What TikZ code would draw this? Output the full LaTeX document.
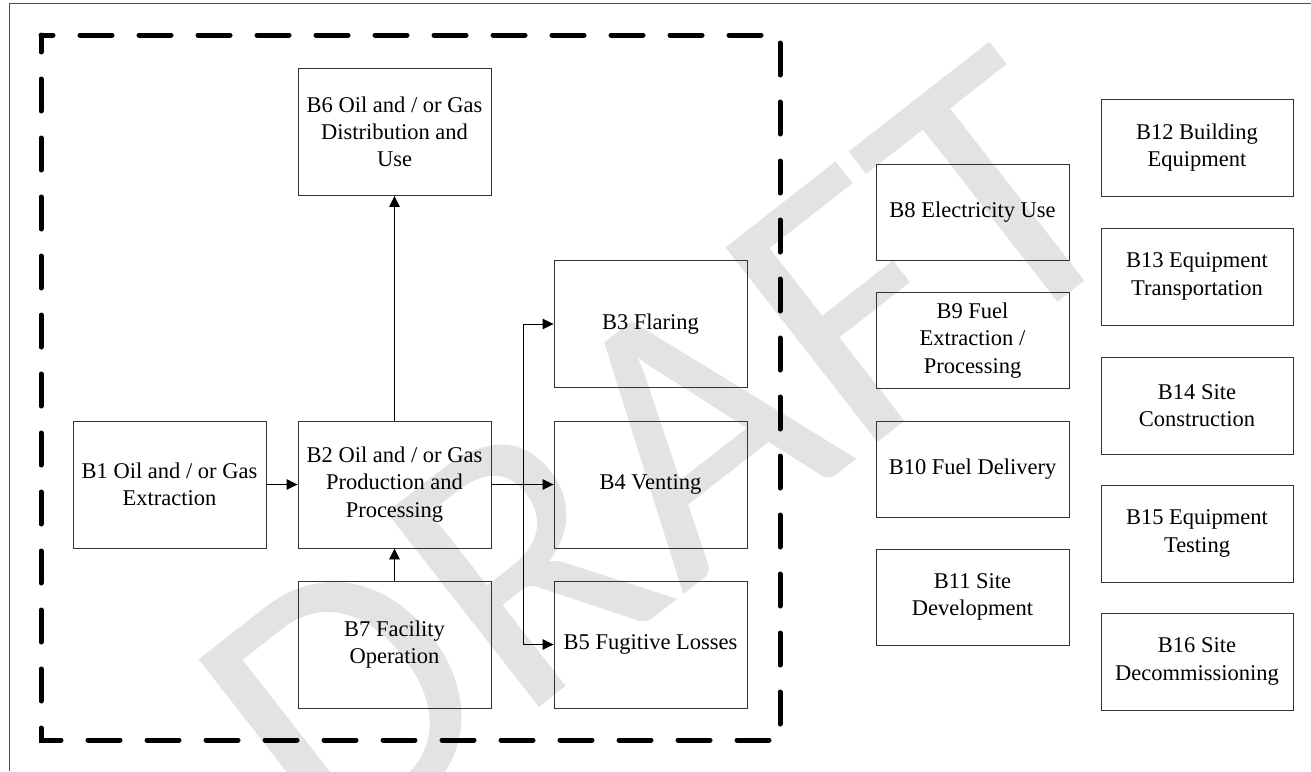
\documentclass[tikz,border=0pt]{standalone}
\usepackage{fontspec}
\setmainfont{Liberation Serif}
\newfontfamily\wmfont{Carlito}
\usetikzlibrary{arrows.meta}
\begin{document}
\begin{tikzpicture}[x=1pt,y=-1pt,
  box/.style={draw=black!80, line width=0.9pt, align=center,
    font=\fontsize{22.5}{27.3}\selectfont, inner sep=0pt},
  mainbox/.style={box, minimum width=193pt, minimum height=127pt},
  sidebox/.style={box, minimum width=193pt, minimum height=96pt},
  sidebox2/.style={box, minimum width=192pt, minimum height=97pt},
  arr/.style={draw=black, line width=0.9pt, -{Triangle[length=11pt,width=10.5pt]}},
  link/.style={draw=black, line width=0.9pt},
  groupframe/.style={draw=black, line width=5pt, line cap=round,
    dash pattern=on 32pt off 27pt, dash phase=20pt},
  pageframe/.style={draw=black!70, line width=1.2pt},
  watermark/.style={rotate=38, text=black!11,
    font=\wmfont\fontsize{385}{385}\selectfont, inner sep=0pt}
]
\useasboundingbox (0,0) rectangle (1311,771);
% watermark
\node[watermark] (wm) at (662,455) {DRAFT};
% page frame
\draw[pageframe] (9.5,771) -- (9.5,3.5) -- (1311,3.5);
% dashed group frame
\draw[groupframe] (41,35) -- (780,35) -- (780,740) -- (41,740) -- cycle;
% main boxes
\node[mainbox] (b1) at (169.5,484.5) {B1 Oil and / or Gas\\Extraction};
\node[mainbox] (b2) at (394.5,484.5) {B2 Oil and / or Gas\\Production and\\Processing};
\node[mainbox] (b6) at (394.5,132) {B6 Oil and / or Gas\\Distribution and\\Use};
\node[mainbox] (b7) at (394.5,644.5) {B7 Facility\\Operation};
\node[mainbox] (b3) at (650.5,324) {B3 Flaring};
\node[mainbox] (b4) at (650.5,484.5) {B4 Venting};
\node[mainbox] (b5) at (650.5,644.5) {B5 Fugitive Losses};
% side boxes
\node[sidebox] (b8) at (972.5,212) {B8 Electricity Use};
\node[sidebox] (b9) at (972.5,340.5) {B9 Fuel\\Extraction /\\Processing};
\node[sidebox] (b10) at (972.5,469) {B10 Fuel Delivery};
\node[sidebox] (b11) at (972.5,597) {B11 Site\\Development};
\node[sidebox2] (b12) at (1197,147.5) {B12 Building\\Equipment};
\node[sidebox2] (b13) at (1197,276.5) {B13 Equipment\\Transportation};
\node[sidebox2] (b14) at (1197,405.5) {B14 Site\\Construction};
\node[sidebox2] (b15) at (1197,533.5) {B15 Equipment\\Testing};
\node[sidebox2] (b16) at (1197,661.5) {B16 Site\\Decommissioning};
% connectors
\coordinate (j) at (523,484.5);
\draw[arr] (b1) -- (b2);
\draw[arr] (b2) -- (b6);
\draw[arr] (b7) -- (b2);
\draw[arr] (b2.east) -- (b4.west);
\draw[link] (j |- b3.west) -- (j |- b5.west);
\draw[arr] (j |- b3.west) -- (b3.west);
\draw[arr] (j |- b5.west) -- (b5.west);
\end{tikzpicture}
\end{document}
